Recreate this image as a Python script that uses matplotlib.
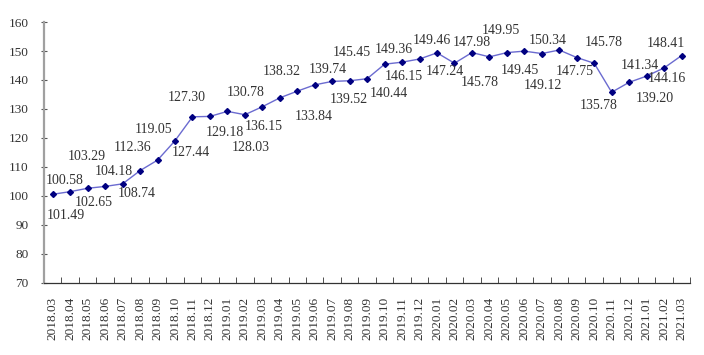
import matplotlib
matplotlib.use("Agg")
import matplotlib.pyplot as plt
import numpy as np

# months on the x axis
months = ["2018.03", "2018.04", "2018.05", "2018.06", "2018.07", "2018.08",
          "2018.09", "2018.10", "2018.11", "2018.12", "2019.01", "2019.02",
          "2019.03", "2019.04", "2019.05", "2019.06", "2019.07", "2019.08",
          "2019.09", "2019.10", "2019.11", "2019.12", "2020.01", "2020.02",
          "2020.03", "2020.04", "2020.05", "2020.06", "2020.07", "2020.08",
          "2020.09", "2020.10", "2020.11", "2020.12", "2021.01", "2021.02",
          "2021.03"]

# index values
values = [100.58, 101.49, 102.65, 103.29, 104.18, 108.74,
          112.36, 119.05, 127.30, 127.44, 129.18, 128.03,
          130.78, 133.84, 136.15, 138.32, 139.52, 139.74,
          140.44, 145.45, 146.15, 147.24, 149.36, 145.78,
          149.46, 147.98, 149.45, 149.95, 149.12, 150.34,
          147.75, 145.78, 135.78, 139.20, 141.34, 144.16,
          148.41]

# where each value label sits relative to its point (pixels, x right / y down)
label_offsets = [(12, -14), (-4, 24), (6, 14), (-18, -30), (-9, -12), (-3, 23),
                 (-25, -13), (-21, -11), (-6, -19), (-19, 36), (-3, 21), (6, 33),
                 (-17, -14), (34, 19), (-34, 35), (-33, -13), (17, 18), (-22, -11),
                 (22, 15), (-33, -12), (2, 14), (25, 12), (-43, -3), (25, 19),
                 (-40, -12), (-18, -14), (13, 18), (-23, -21), (1, 32), (-12, -10),
                 (-2, 14), (10, -21), (-13, 13), (26, 16), (-7, -11), (3, 11),
                 (-16, -12)]

plt.rcParams['font.family'] = ['Liberation Serif', 'DejaVu Serif']

fig = plt.figure(figsize=(7.04, 3.55), dpi=100)
ax = fig.add_axes([0.0625, 0.203, 0.918, 0.735])

x = np.arange(len(months))
ax.plot(x, values, color="#6b6bd0", linewidth=1.0, marker="D",
        markersize=3, markerfacecolor="#000080", markeredgecolor="#000080")

for xi, v, (dx, dy) in zip(x, values, label_offsets):
    ax.annotate("%.2f" % v, (xi, v), xytext=(dx, -dy), textcoords="offset pixels",
                ha="center", va="center", fontsize=10, color="#333333")

ax.set_xlim(-0.5, len(months) - 0.5)
ax.set_ylim(70, 160)
ax.set_yticks(np.arange(70, 161, 10))

ax.set_xticks(x)
ax.set_xticklabels(months, rotation=90, fontsize=9.5, color="#333333")
ax.set_xticks(np.arange(-0.5, len(months), 1), minor=True)
ax.tick_params(axis="x", which="major", length=0, pad=10)
ax.tick_params(axis="x", which="minor", direction="in", length=4, color="#333333")
ax.tick_params(axis="y", direction="inout", length=4, labelsize=9.5,
               labelcolor="#333333", color="#555555", pad=9)

for side in ["top", "right"]:
    ax.spines[side].set_visible(False)
ax.spines["left"].set_color("#a0a0a0")
ax.spines["left"].set_linewidth(1.6)
ax.spines["bottom"].set_color("#333333")
ax.spines["bottom"].set_linewidth(0.9)

fig.savefig("out.png", dpi=100)
